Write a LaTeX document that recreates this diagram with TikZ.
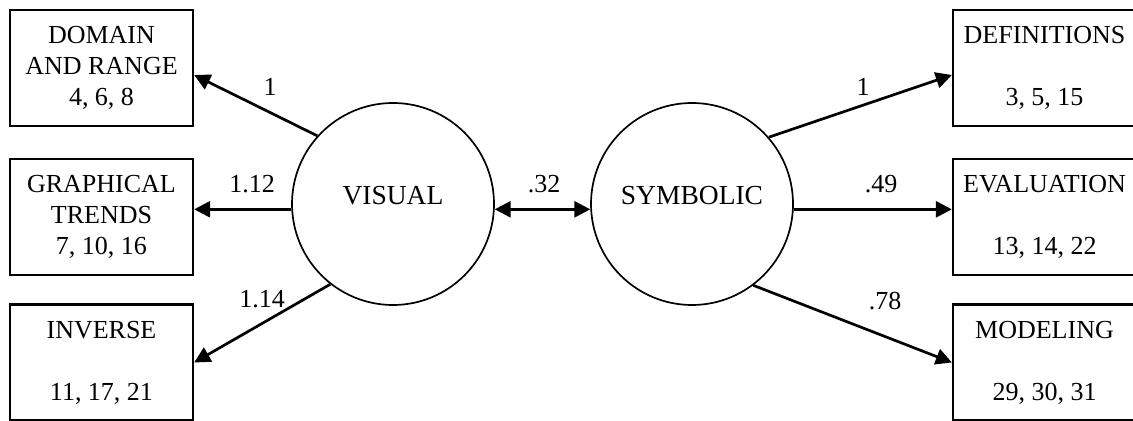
\documentclass[tikz,border=0pt]{standalone}
\usepackage{fontspec}
\setmainfont{Liberation Serif}
\usetikzlibrary{arrows.meta}
\begin{document}
\begin{tikzpicture}[x=0.5pt,y=-0.5pt,
  box/.style={draw,line width=1.15pt,minimum width=91.5pt,minimum height=58pt,inner sep=0pt,align=center,font=\fontsize{13}{15.5}\selectfont},
  latent/.style={draw,circle,line width=0.85pt,minimum size=101pt,inner sep=0pt,font=\fontsize{13.75}{16}\selectfont,text height=7pt,text depth=6pt},
  pathline/.style={line width=1.35pt,-{Triangle[length=8pt,width=8pt]}},
  covline/.style={line width=1.35pt,{Triangle[length=8pt,width=8pt]}-{Triangle[length=8pt,width=8pt]}},
  lab/.style={anchor=base,font=\fontsize{13}{15.5}\selectfont,inner sep=0pt}]
\clip (0,0) rectangle (1133,421);
\useasboundingbox (0,0) rectangle (1133,421);
% observed variables
\node[box] (dom) at (101.5,68) {DOMAIN\\AND RANGE\\4, 6, 8};
\node[box] (gra) at (101.5,217) {GRAPHICAL\\TRENDS\\7, 10, 16};
\node[box] (inv) at (101.5,362.5) {INVERSE\\\mbox{}\\11, 17, 21};
\node[box] (def) at (1044.5,68) {DEFINITIONS\\\mbox{}\\3, 5, 15};
\node[box] (eva) at (1044.5,217) {EVALUATION\\\mbox{}\\13, 14, 22};
\node[box] (mod) at (1044.5,362.5) {MODELING\\\mbox{}\\29, 30, 31};
% latent variables
\node[latent] (vis) at (393,204) {VISUAL};
\node[latent] (sym) at (692,204) {SYMBOLIC};
% paths
\draw[pathline] (vis.138.6) -- ([yshift=-3.5pt]dom.east);
\draw[pathline] (vis.183.4) -- (vis.183.4 -| gra.east);
\draw[pathline] (vis.232.9) -- (inv.east);
\draw[pathline] (sym.41.3) -- ([yshift=-3.5pt]def.west);
\draw[pathline] (sym.-3.4) -- (sym.-3.4 -| eva.west);
\draw[pathline] (sym.-53.9) -- (mod.west);
\draw[covline] (vis.-3.4) -- (sym.183.4);
% labels
\node[lab] (w1) at (270,96) {1};
\node[lab] (w2) at (252,193) {1.12};
\node[lab] (w3) at (262,308) {1.14};
\node[lab] (w4) at (863,96) {1};
\node[lab] (w5) at (881,193) {.49};
\node[lab] (w6) at (885,310) {.78};
\node[lab] (w7) at (544,193) {.32};
\end{tikzpicture}
\end{document}
